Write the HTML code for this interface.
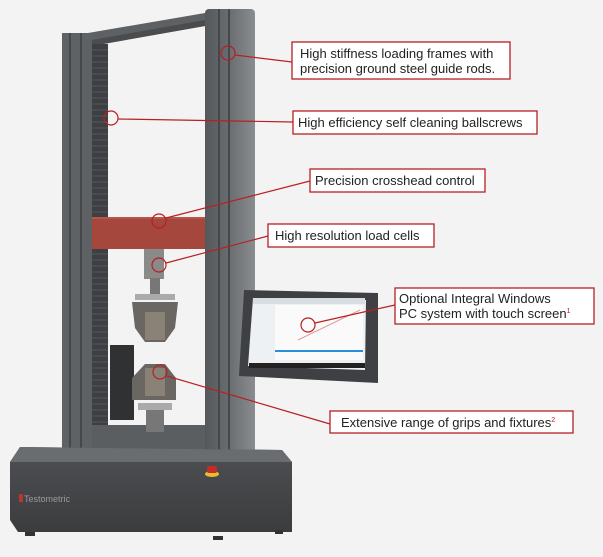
<!DOCTYPE html>
<html><head><meta charset="utf-8"><style>
html,body{margin:0;padding:0;background:#f3f3f3;}
svg{display:block}
text{font-family:"Liberation Sans",sans-serif;font-size:13px;fill:#222;}
</style></head><body>
<svg width="603" height="557" viewBox="0 0 603 557" xmlns="http://www.w3.org/2000/svg">
<defs>
<linearGradient id="col" x1="0" x2="1"><stop offset="0" stop-color="#55585b"/><stop offset="0.5" stop-color="#6b6e71"/><stop offset="1" stop-color="#8a8d90"/></linearGradient>
<linearGradient id="base" x1="0" y1="0" x2="0" y2="1"><stop offset="0" stop-color="#4e5053"/><stop offset="1" stop-color="#3a3c3e"/></linearGradient>
</defs>
<rect width="603" height="557" fill="#f3f3f3"/>
<polygon points="88,33 205,13 205,26 92,46" fill="#5e6164"/>
<polygon points="92,40 205,20 205,26 92,46" fill="#4a4c4e"/>
<rect x="62" y="33" width="30" height="425" fill="#5f6265"/>
<rect x="69" y="33" width="2" height="425" fill="#45484a"/>
<rect x="80" y="33" width="2" height="425" fill="#45484a"/>
<rect x="92" y="44" width="16" height="390" fill="#3d3f42"/>
<g stroke="#55585a" stroke-width="1">
<path d="M92 50H108M92 56H108M92 62H108M92 68H108M92 74H108M92 80H108M92 86H108M92 92H108M92 98H108M92 104H108M92 110H108M92 116H108M92 122H108M92 128H108M92 134H108M92 140H108M92 146H108M92 152H108M92 158H108M92 164H108M92 170H108M92 176H108M92 182H108M92 188H108M92 194H108M92 200H108M92 206H108M92 212H108M92 254H108M92 260H108M92 266H108M92 272H108M92 278H108M92 284H108M92 290H108M92 296H108M92 302H108M92 308H108M92 314H108M92 320H108M92 326H108M92 332H108M92 338H108M92 344H108M92 350H108M92 356H108M92 362H108M92 368H108M92 374H108M92 380H108M92 386H108M92 392H108M92 398H108M92 404H108M92 410H108M92 416H108M92 422H108M92 428H108"/>
</g>
<rect x="205" y="9" width="50" height="450" rx="4" fill="url(#col)"/>
<rect x="218" y="9" width="2" height="450" fill="#45484a"/>
<rect x="228" y="9" width="2" height="450" fill="#45484a"/>
<rect x="92" y="425" width="113" height="28" fill="#5b5e61"/>
<rect x="92" y="217" width="113" height="32" fill="#a6473d"/>
<rect x="92" y="217" width="113" height="2" fill="#b65549"/>
<rect x="144" y="249" width="20" height="30" fill="#8a8a88"/>
<rect x="150" y="278" width="10" height="18" fill="#777"/>
<rect x="135" y="294" width="40" height="6" fill="#aaa"/>
<polygon points="132,302 178,302 175,328 165,342 145,342 135,328" fill="#6a6762"/>
<rect x="145" y="312" width="20" height="28" fill="#8b8277"/>
<rect x="110" y="345" width="24" height="75" fill="#2f3133"/>
<polygon points="145,364 165,364 176,378 176,400 132,400 132,378" fill="#6a6762"/>
<rect x="145" y="368" width="20" height="28" fill="#8b8277"/>
<rect x="138" y="403" width="34" height="7" fill="#aaa"/>
<rect x="146" y="410" width="18" height="22" fill="#777"/>
<polygon points="20,447 282,450 292,462 292,532 18,532 10,520 10,462" fill="url(#base)"/>
<polygon points="20,447 282,450 292,462 10,462" fill="#6a6d70"/>
<text x="24" y="502" style="font-size:9px;fill:#999">Testometric</text>
<rect x="19" y="494" width="4" height="8" fill="#b33"/>
<ellipse cx="212" cy="474" rx="7" ry="3" fill="#e5c02a"/>
<rect x="207" y="466" width="10" height="7" rx="2" fill="#c62a2a"/>
<rect x="25" y="532" width="10" height="4" fill="#333"/><rect x="213" y="536" width="10" height="4" fill="#333"/><rect x="275" y="530" width="8" height="4" fill="#333"/>
<polygon points="244,290 378,293 378,383 239,376" fill="#3e4043"/>
<polygon points="253,298 366,300 365,370 248,366" fill="#eef1f4"/>
<rect x="253" y="298" width="112" height="6" fill="#d8dde3"/>
<rect x="275" y="305" width="88" height="55" fill="#fafafa"/>
<line x1="275" y1="351" x2="363" y2="351" stroke="#2a8fd6" stroke-width="2"/>
<line x1="298" y1="340" x2="360" y2="310" stroke="#e39b9b" stroke-width="1"/>
<rect x="249" y="363" width="116" height="5" fill="#222"/>
<g fill="none" stroke="#b81f24" stroke-width="1.2">
<circle cx="228" cy="53" r="7"/><line x1="235" y1="55" x2="292" y2="62"/>
<circle cx="111" cy="118" r="7"/><line x1="118" y1="119" x2="293" y2="122"/>
<circle cx="159" cy="221" r="7"/><line x1="166" y1="218" x2="310" y2="181"/>
<circle cx="159" cy="265" r="7"/><line x1="166" y1="263" x2="268" y2="236"/>
<circle cx="308" cy="325" r="7"/><line x1="315" y1="323" x2="395" y2="305"/>
<circle cx="160" cy="372" r="7"/><line x1="167" y1="376" x2="330" y2="424"/>
</g>
<g fill="#fff" stroke="#b81f24" stroke-width="1.3">
<rect x="292" y="42" width="218" height="37"/>
<rect x="293" y="111" width="244" height="23"/>
<rect x="310" y="169" width="175" height="23"/>
<rect x="268" y="224" width="166" height="23"/>
<rect x="395" y="288" width="199" height="36"/>
<rect x="330" y="411" width="243" height="22"/>
</g>
<text x="300" y="58">High stiffness loading frames with</text>
<text x="300" y="73">precision ground steel guide rods.</text>
<text x="298" y="127">High efficiency self cleaning ballscrews</text>
<text x="315" y="185">Precision crosshead control</text>
<text x="275" y="240">High resolution load cells</text>
<text x="399" y="303">Optional Integral Windows</text>
<text x="399" y="318">PC system with touch screen<tspan style="font-size:7px;fill:#b81f24" dy="-5">1</tspan></text>
<text x="341" y="427">Extensive range of grips and fixtures<tspan style="font-size:7px;fill:#b81f24" dy="-5">2</tspan></text>
</svg>
</body></html>
